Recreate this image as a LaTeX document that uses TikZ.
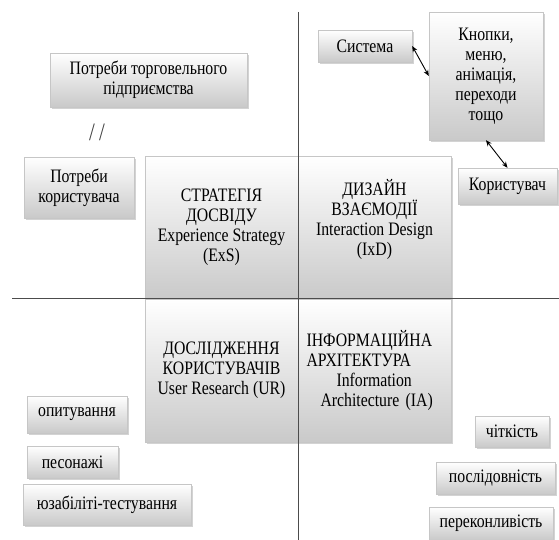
\documentclass[tikz,border=0pt]{standalone}
\usepackage{fontspec}
\setmainfont[FakeStretch=0.83]{Liberation Serif}
\usetikzlibrary{arrows.meta,shadows,positioning}

\begin{document}
\begin{tikzpicture}[x=1pt,y=-1pt,font=\fontsize{19}{20}\selectfont]
  \tikzstyle{tile}=[draw=gray!45,top color=white,bottom color=gray!42,
    drop shadow={shadow xshift=1.5pt,shadow yshift=-2pt,opacity=0.35},
    inner sep=2pt,align=center]
  \tikzstyle{quad}=[tile,minimum width=153pt,minimum height=143pt]
  \tikzstyle{axis}=[draw=black!70,line width=0.8pt]
  \tikzstyle{link}=[{Stealth[length=6pt,width=5pt]}-{Stealth[length=6pt,width=5pt]},line width=0.9pt]

  \useasboundingbox (0,0) rectangle (559,540);

  % four quadrants
  \node[quad] (exs) at (221.5,227.5) {СТРАТЕГІЯ\\ДОСВІДУ\\Experience Strategy\\(ExS)};
  \node[quad,text depth=20pt] (ixd) at (374.5,227.5) {ДИЗАЙН\\ВЗАЄМОДІЇ\\Interaction Design\\(IxD)};
  \node[quad] (ur)  at (221.5,370.5) {ДОСЛІДЖЕННЯ\\КОРИСТУВАЧІВ\\User Research (UR)};
  \node[quad,text width=136pt,align=left] (ia) at (374.5,370.5)
    {ІНФОРМАЦІЙНА\\АРХІТЕКТУРА\\\hspace*{30pt}Information\\\hspace*{14pt}Architecture (IA)};

  % left top
  \node[tile,minimum width=197pt,minimum height=54pt] (firm) at (148.5,80)
    {Потреби торговельного\\підприємства};
  \node[font=\fontsize{25}{25}\selectfont,text=black!75] (sep) at (97,132) {/\,/};
  \node[tile,minimum width=110pt,minimum height=61pt] (usr) at (79,187.5)
    {Потреби\\користувача};

  % right top
  \node[tile,minimum width=94pt,minimum height=32pt] (sys) at (365,46) {Система};
  \node[tile,minimum width=114pt,minimum height=128pt] (kn) at (486,76)
    {Кнопки,\\меню,\\анімація,\\переходи\\тощо};
  \node[tile,minimum width=99pt,minimum height=36pt] (kor) at (507.5,186) {Користувач};

  % left bottom
  \node[tile,minimum width=100pt,minimum height=37pt] (opyt) at (77,414.5) {опитування};
  \node[tile,minimum width=91pt,minimum height=32pt] (pers) at (72.5,462) {песонажі};
  \node[tile,minimum width=168pt,minimum height=41pt] (uzab) at (107,504.5) {юзабіліті-тестування};

  % right bottom
  \node[tile,minimum width=74pt,minimum height=31pt] (chit) at (512,431.5) {чіткість};
  \node[tile,minimum width=119pt,minimum height=32pt] (posl) at (495.5,478) {послідовність};
  \node[tile,minimum width=124pt,minimum height=33pt] (perek) at (491,523.5) {переконливість};

  % axes
  \coordinate (top) at (298,12);
  \coordinate (bot) at (298,540);
  \coordinate (lft) at (12,298);
  \coordinate (rgt) at (559,298);
  \draw[axis] (top) -- (bot);
  \draw[axis] (lft) -- (rgt);

  \path[link]
  (sys.east) edge (kn.west)
  (kn.south) edge (kor.north);
\end{tikzpicture}
\end{document}
